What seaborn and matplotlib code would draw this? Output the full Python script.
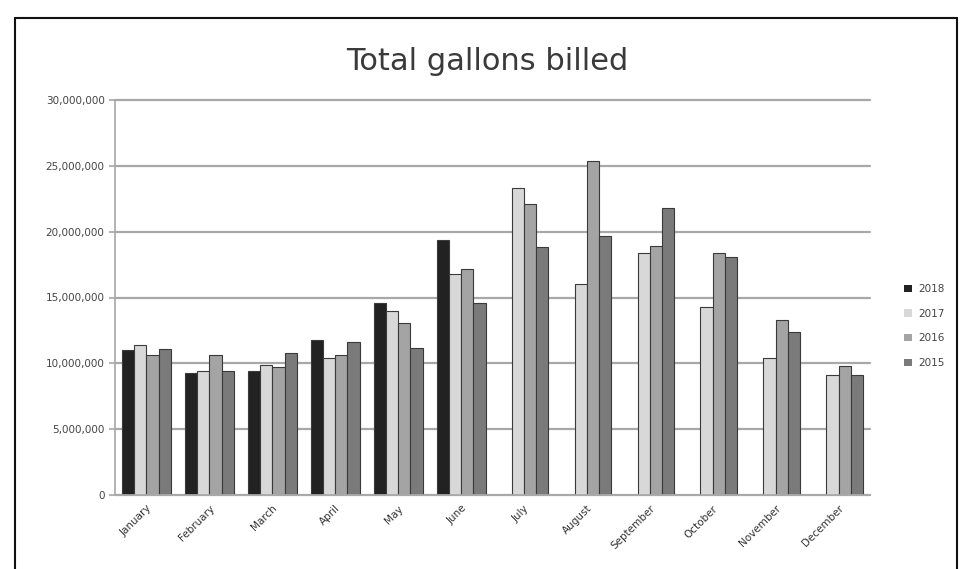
import matplotlib
matplotlib.use("Agg")
import matplotlib.pyplot as plt
from matplotlib.lines import Line2D
from matplotlib.ticker import FuncFormatter
import seaborn as sns
import pandas as pd
import numpy as np

months = ["January", "February", "March", "April", "May", "June",
          "July", "August", "September", "October", "November", "December"]
years = ["2018", "2017", "2016", "2015"]
v2018 = [11.0e6, 9.3e6, 9.4e6, 11.8e6, 14.6e6, 19.4e6,
         np.nan, np.nan, np.nan, np.nan, np.nan, np.nan]
v2017 = [11.4e6, 9.4e6, 9.9e6, 10.4e6, 14.0e6, 16.8e6,
         23.3e6, 16.0e6, 18.4e6, 14.3e6, 10.4e6, 9.1e6]
v2016 = [10.6e6, 10.6e6, 9.7e6, 10.6e6, 13.1e6, 17.2e6,
         22.1e6, 25.4e6, 18.9e6, 18.4e6, 13.3e6, 9.8e6]
v2015 = [11.1e6, 9.4e6, 10.8e6, 11.6e6, 11.2e6, 14.6e6,
         18.8e6, 19.7e6, 21.8e6, 18.1e6, 12.4e6, 9.1e6]
yticks = [0, 5e6, 10e6, 15e6, 20e6, 25e6, 30e6]

series = {"2018": v2018, "2017": v2017, "2016": v2016, "2015": v2015}
rows = []
for y in years:
    for m, v in zip(months, series[y]):
        rows.append({"Month": m, "Year": y, "Gallons": v})
df = pd.DataFrame(rows)

palette = {"2018": "#222222", "2017": "#d8d8d8", "2016": "#a4a4a4", "2015": "#7a7a7a"}

sns.set_theme(style="white")
plt.rcParams['font.family'] = ['DejaVu Sans']

fig = plt.figure(figsize=(9.69, 5.69), dpi=100)
ax = fig.add_axes([115/969, 74/569, (870-115)/969, (495-100)/569])

sns.barplot(data=df, x="Month", y="Gallons", hue="Year", hue_order=years,
            order=months, palette=palette, ax=ax, width=0.78,
            edgecolor="#3a3a3a", linewidth=0.8, saturation=1)

ax.set_ylim(0, 30e6)
ax.set_yticks(yticks)
ax.yaxis.set_major_formatter(FuncFormatter(lambda v, p: f"{int(v):,}"))
ax.grid(axis="y", color="#a8a8a8", linewidth=1.6)
for gl in ax.get_ygridlines():
    gl.set_clip_on(False)
ax.set_axisbelow(True)
for s in ["top", "right"]:
    ax.spines[s].set_visible(False)
ax.spines["left"].set_color("#aaaaaa")
ax.spines["bottom"].set_color("#aaaaaa")
ax.tick_params(axis="y", labelsize=7.5, colors="#444444", length=4, color="#aaaaaa", left=True)
ax.tick_params(axis="x", labelsize=7.5, colors="#333333", length=0, pad=6)
plt.setp(ax.get_xticklabels(), rotation=45, ha="right", rotation_mode="anchor")
ax.set_xlabel("")
ax.set_ylabel("")

fig.text(487/969, 1 - 62/569, "Total gallons billed", ha="center", va="center",
         fontsize=22, color="#3a3a3a")

handles, labels = ax.get_legend_handles_labels()
for h in handles:
    h.set_edgecolor("none")
ax.legend(handles, labels, loc="center left", bbox_to_anchor=(895/969, 1 - 326/569),
          bbox_transform=fig.transFigure, frameon=False, fontsize=7.5,
          handlelength=0.7, handleheight=0.7, labelspacing=1.4, handletextpad=0.6,
          labelcolor="#444444")

# outer frame
fig.add_artist(Line2D([15/969, 15/969], [0, 1 - 18/569], transform=fig.transFigure, color="#111111", lw=1.5))
fig.add_artist(Line2D([957/969, 957/969], [0, 1 - 18/569], transform=fig.transFigure, color="#111111", lw=1.5))
fig.add_artist(Line2D([15/969, 957/969], [1 - 18/569, 1 - 18/569], transform=fig.transFigure, color="#111111", lw=1.5))

fig.savefig("out.png", dpi=100, facecolor="white")
